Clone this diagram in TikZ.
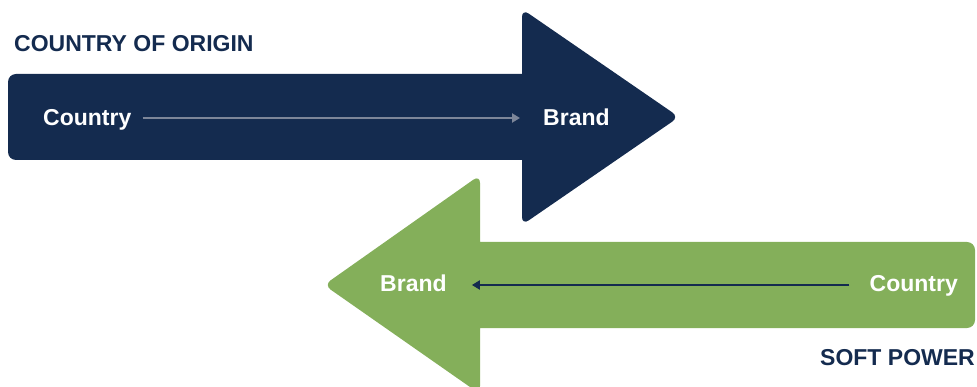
\documentclass[tikz,border=0pt]{standalone}
\usepackage{fontspec}
\setmainfont{Liberation Sans}
\usetikzlibrary{arrows.meta}
\definecolor{navy}{HTML}{142B4F}
\definecolor{leaf}{HTML}{84AF5A}
\definecolor{lgray}{HTML}{7D8699}
\tikzset{
  lbl/.style={font=\bfseries\fontsize{23}{27}\selectfont, text=white, inner sep=0pt},
  ttl/.style={font=\bfseries\fontsize{23}{27}\selectfont, text=navy, inner sep=0pt},
  link/.style={line width=2pt, -{Triangle[length=8pt,width=9pt]}}
}
\begin{document}
\begin{tikzpicture}[x=1pt,y=-1pt]
\useasboundingbox (0,0) rectangle (977,387);
% blue arrow
\fill[navy, rounded corners=8pt] (8,160) -- (8,74) [sharp corners] -- (522,74) [rounded corners=8pt] -- (522,9) -- (679,117) -- (522,225) [sharp corners] -- (522,160) [rounded corners=8pt] -- cycle;
% green arrow
\fill[leaf, rounded corners=8pt] (975,242) -- (975,328) [sharp corners] -- (480,328) [rounded corners=8pt] -- (480,394) -- (324,285) -- (480,175) [sharp corners] -- (480,242) [rounded corners=8pt] -- cycle;
\node[ttl, anchor=base west] (t1) at (14,52) {COUNTRY OF ORIGIN};
\node[ttl, anchor=base east] (t2) at (975,365) {SOFT POWER};
\node[lbl, anchor=base west] (c1) at (43,126) {Country};
\node[lbl, anchor=base west] (b1) at (543,126) {Brand};
\node[lbl, anchor=base west] (b2) at (380,292) {Brand};
\node[lbl, anchor=base east] (c2) at (958,292) {Country};
\draw[link, lgray, shorten <=11pt, shorten >=23pt] (c1.east |- 0,118) -- (b1.west |- 0,118);
\draw[link, navy, shorten <=20pt, shorten >=25pt] (c2.west |- 0,285) -- (b2.east |- 0,285);
\end{tikzpicture}
\end{document}
